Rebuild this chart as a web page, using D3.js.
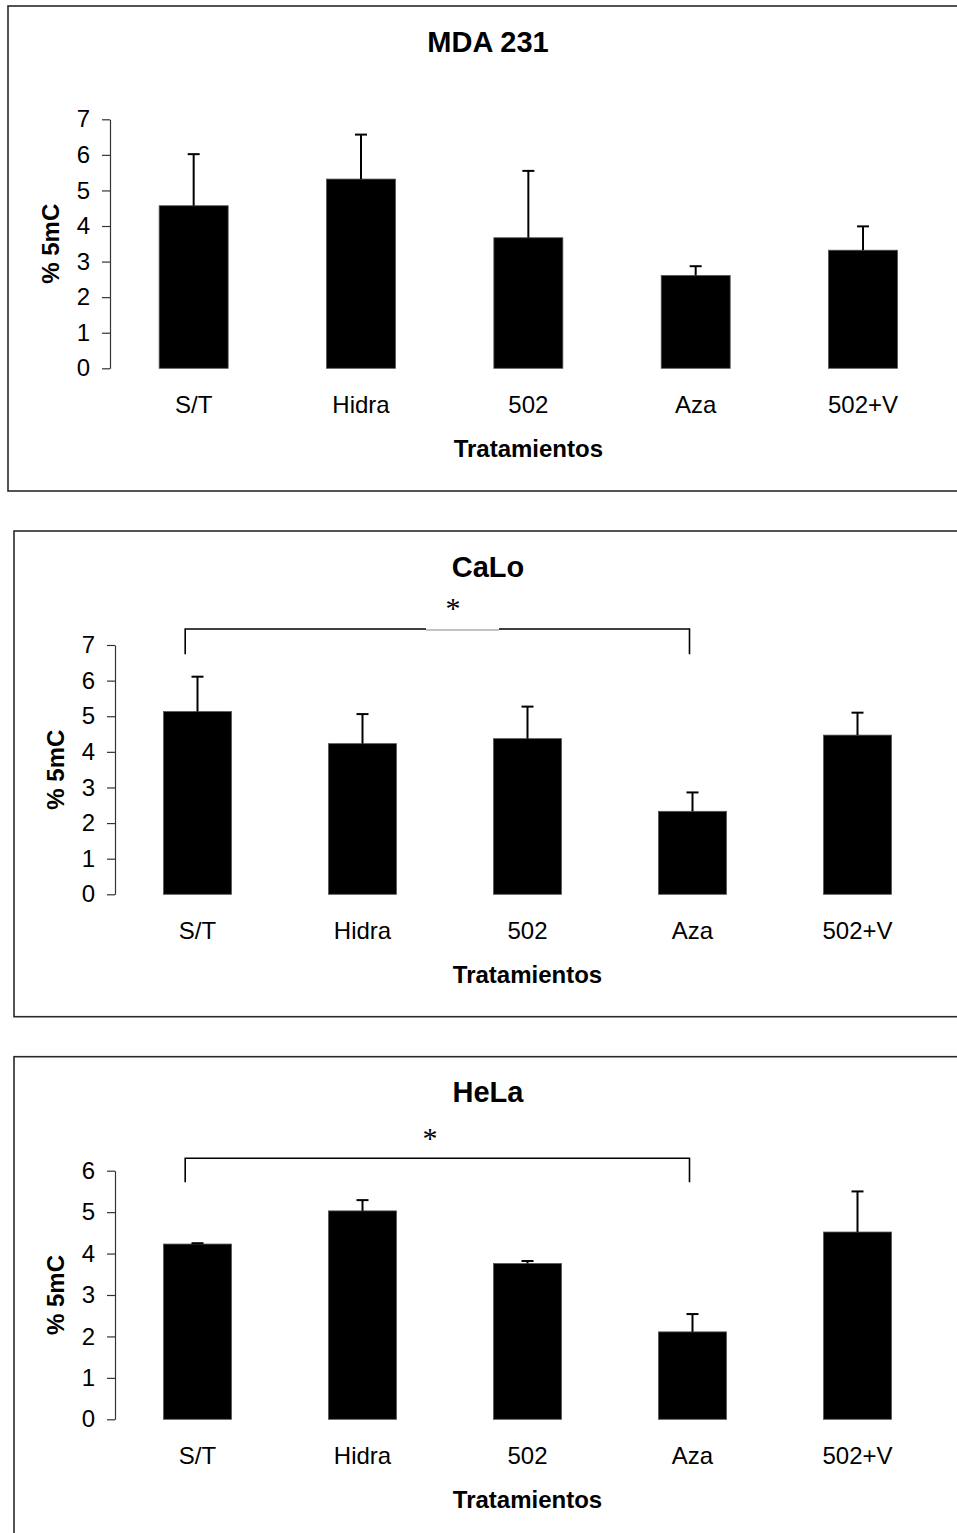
<!DOCTYPE html>
<html>
<head>
<meta charset="utf-8">
<script src="https://cdn.jsdelivr.net/npm/d3@7"></script>
<style>
  html, body { margin: 0; padding: 0; background: #fff; }
  svg { display: block; }
</style>
</head>
<body>
<div id="chart"></div>
<script>
// ---------- DATA ----------
const categories = ["S/T", "Hidra", "502", "Aza", "502+V"];

const mdaTitle = "MDA 231";
const mdaMeans = [4.57, 5.32, 3.67, 2.61, 3.32];
const mdaErrors = [1.45, 1.25, 1.88, 0.26, 0.67];
const mdaTicks = [0, 1, 2, 3, 4, 5, 6, 7];

const caloTitle = "CaLo";
const caloMeans = [5.13, 4.23, 4.37, 2.33, 4.47];
const caloErrors = [0.98, 0.83, 0.90, 0.53, 0.63];
const caloTicks = [0, 1, 2, 3, 4, 5, 6, 7];

const helaTitle = "HeLa";
const helaMeans = [4.23, 5.03, 3.76, 2.11, 4.52];
const helaErrors = [0.02, 0.26, 0.06, 0.43, 0.98];
const helaTicks = [0, 1, 2, 3, 4, 5, 6];

const yAxisTitle = "% 5mC";
const xAxisTitle = "Tratamientos";
const sigMark = "*";
const sigPair = ["S/T", "Aza"];

// ---------- LAYOUT ----------
const W = 957, H = 1533;
const FONT = "'Liberation Sans', Arial, Helvetica, sans-serif";

const svg = d3.select("#chart").append("svg")
  .attr("width", W).attr("height", H)
  .attr("viewBox", `0 0 ${W} ${H}`);

svg.append("rect").attr("width", W).attr("height", H).attr("fill", "#fff");

const panels = [
  { title: mdaTitle, means: mdaMeans, errors: mdaErrors, ticks: mdaTicks,
    box: [8, 6, 975, 491], xRange: [110, 946.7], yRange: [368.3, 119.3], barW: 69,
    bracket: null },
  { title: caloTitle, means: caloMeans, errors: caloErrors, ticks: caloTicks,
    box: [14, 531, 975, 1016.7], xRange: [115, 940], yRange: [894.3, 645], barW: 68,
    bracket: { top: 7.45, bottom: 6.74, leftOff: -12.3, rightOff: -3, starX: 453, starDy: -23, gap: [426, 499] } },
  { title: helaTitle, means: helaMeans, errors: helaErrors, ticks: helaTicks,
    box: [14, 1056.7, 975, 1550], xRange: [115, 940], yRange: [1419.3, 1170.7], barW: 68,
    bracket: { top: 6.30, bottom: 5.72, leftOff: -12.3, rightOff: -3, starX: 430, starDy: -22.5, gap: null } }
];

const titleCenterX = 488;

panels.forEach(p => {
  const g = svg.append("g");
  const [bx0, by0, bx1, by1] = p.box;

  // frame
  g.append("rect")
    .attr("x", bx0).attr("y", by0)
    .attr("width", bx1 - bx0).attr("height", by1 - by0)
    .attr("fill", "none").attr("stroke", "#2a2a2a").attr("stroke-width", 1.6);

  const x = d3.scaleBand().domain(categories).range(p.xRange).padding(0);
  const y = d3.scaleLinear()
    .domain([0, d3.max(p.ticks)])
    .range(p.yRange);
  const cx = c => x(c) + x.bandwidth() / 2;

  // title
  g.append("text")
    .attr("x", titleCenterX).attr("y", by0 + 45.5)
    .attr("text-anchor", "middle")
    .attr("font-family", FONT).attr("font-weight", "bold").attr("font-size", 29)
    .attr("fill", "#000")
    .text(p.title);

  // y axis
  const yAxis = d3.axisLeft(y).tickValues(p.ticks).tickSize(8).tickSizeOuter(0).tickPadding(12)
    .tickFormat(d3.format("d"));
  const ya = g.append("g").attr("transform", `translate(${p.xRange[0]},0)`).call(yAxis);
  ya.select(".domain").attr("stroke", "#333").attr("stroke-width", 1.2);
  ya.selectAll(".tick line").attr("stroke", "#333").attr("stroke-width", 1.2);
  ya.selectAll(".tick text")
    .attr("font-family", FONT).attr("font-size", 24).attr("fill", "#000");

  // x axis (labels only)
  const xAxis = d3.axisBottom(x).tickSize(0).tickPadding(28);
  const xa = g.append("g").attr("transform", `translate(0,${p.yRange[0]})`).call(xAxis);
  xa.select(".domain").remove();
  xa.selectAll(".tick text")
    .attr("font-family", FONT).attr("font-size", 24).attr("fill", "#000");

  // bars
  const data = categories.map((c, i) => ({ c, v: p.means[i], e: p.errors[i] }));
  g.selectAll("rect.bar").data(data).enter().append("rect")
    .attr("class", "bar")
    .attr("x", d => cx(d.c) - p.barW / 2)
    .attr("width", p.barW)
    .attr("y", d => y(d.v))
    .attr("height", d => y(0) - y(d.v))
    .attr("fill", "#000")
    .attr("stroke", "#555").attr("stroke-width", 0.8);

  // error bars (upper only)
  g.selectAll("line.err").data(data).enter().append("line")
    .attr("class", "err")
    .attr("x1", d => cx(d.c)).attr("x2", d => cx(d.c))
    .attr("y1", d => y(d.v)).attr("y2", d => y(d.v + d.e))
    .attr("stroke", "#000").attr("stroke-width", 2);
  g.selectAll("line.cap").data(data).enter().append("line")
    .attr("class", "cap")
    .attr("x1", d => cx(d.c) - 6).attr("x2", d => cx(d.c) + 6)
    .attr("y1", d => y(d.v + d.e)).attr("y2", d => y(d.v + d.e))
    .attr("stroke", "#000").attr("stroke-width", 2);

  // axis titles
  const yMid = (p.yRange[0] + p.yRange[1]) / 2;
  g.append("text")
    .attr("transform", `translate(${p.xRange[0] - 51},${yMid}) rotate(-90)`)
    .attr("text-anchor", "middle")
    .attr("font-family", FONT).attr("font-weight", "bold").attr("font-size", 24)
    .attr("fill", "#000")
    .text(yAxisTitle);

  g.append("text")
    .attr("x", (p.xRange[0] + p.xRange[1]) / 2)
    .attr("y", p.yRange[0] + 88.5)
    .attr("text-anchor", "middle")
    .attr("font-family", FONT).attr("font-weight", "bold").attr("font-size", 24)
    .attr("fill", "#000")
    .text(xAxisTitle);

  // significance bracket
  if (p.bracket) {
    const b = p.bracket;
    const xl = cx(sigPair[0]) + b.leftOff;
    const xr = cx(sigPair[1]) + b.rightOff;
    const yt = y(b.top), yb = y(b.bottom);
    if (b.gap) {
      g.append("path")
        .attr("d", `M${xl},${yb}V${yt}H${b.gap[0]}M${b.gap[1]},${yt}H${xr}V${yb}`)
        .attr("fill", "none").attr("stroke", "#000").attr("stroke-width", 1.6);
      g.append("line")
        .attr("x1", b.gap[0]).attr("x2", b.gap[1])
        .attr("y1", yt + 1).attr("y2", yt + 1)
        .attr("stroke", "#666").attr("stroke-width", 0.8);
    } else {
      g.append("path")
        .attr("d", `M${xl},${yb}V${yt}H${xr}V${yb}`)
        .attr("fill", "none").attr("stroke", "#000").attr("stroke-width", 1.6);
    }
    g.append("text")
      .attr("x", b.starX).attr("y", yt + b.starDy + 12)
      .attr("text-anchor", "middle")
      .attr("font-family", "'Liberation Serif', 'Times New Roman', serif")
      .attr("font-size", 30)
      .attr("fill", "#000")
      .text(sigMark);
  }
});
</script>
</body>
</html>
